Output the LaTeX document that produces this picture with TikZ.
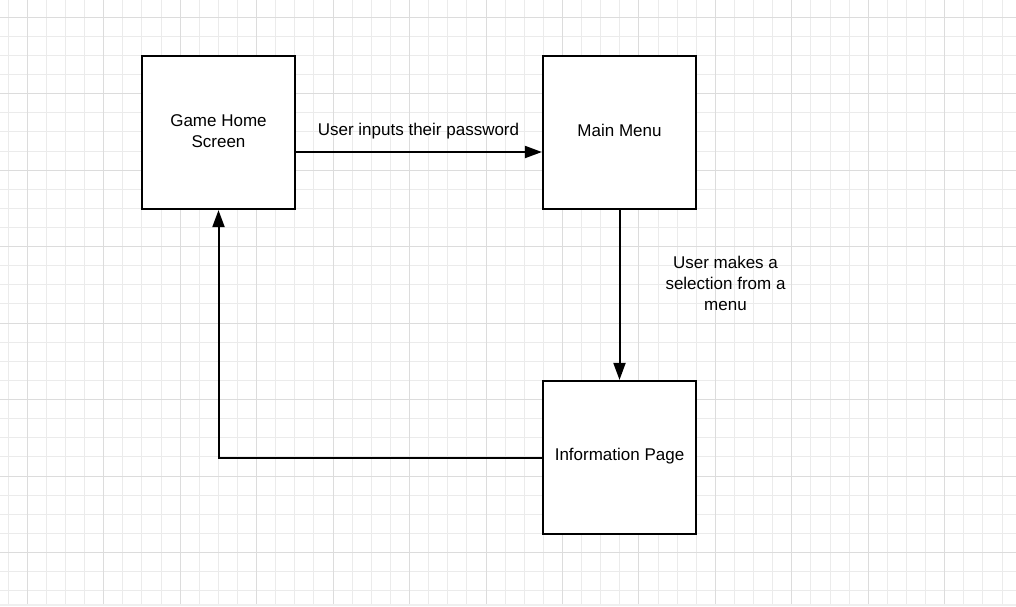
\documentclass[tikz,border=0pt]{standalone}
\usepackage{fontspec}
\setmainfont{Liberation Sans}
\usetikzlibrary{arrows.meta}
\definecolor{gridminor}{HTML}{EBEBEB}
\definecolor{gridmajor}{HTML}{DCDCDC}
\definecolor{stripgray}{HTML}{EFEFEF}
\tikzset{
  screen/.style={draw=black, line width=2.2pt, fill=white, minimum width=153pt, minimum height=153pt, inner sep=0pt},
  screentext/.style={align=center, inner sep=0pt, font=\fontsize{17pt}{21pt}\selectfont, yshift=1.8pt},
  flow/.style={draw=black, line width=2pt, -{Triangle[length=17pt,width=12pt]}},
  lbl/.style={align=center, font=\fontsize{17pt}{21pt}\selectfont, inner sep=0pt},
  minorline/.style={draw=gridminor, line width=1pt},
  majorline/.style={draw=gridmajor, line width=1pt}
}
\begin{document}
\begin{tikzpicture}[x=1pt,y=-1pt]
\useasboundingbox (0,0) rectangle (1016,606);
\fill[white] (0,0) rectangle (1016,606);
% minor grid (skipping major positions)
\draw[minorline] (8.2,0) -- (8.2,604);
\foreach \k in {0,...,12} {
  \foreach \j in {1,2,3} {
    \draw[minorline] ({27.3+76.45*\k+19.11*\j},0) -- ({27.3+76.45*\k+19.11*\j},604);
  }
}
\foreach \k in {0,...,7} {
  \foreach \j in {1,2,3} {
    \draw[minorline] (0,{17.3+76.45*\k+19.11*\j}) -- (1016,{17.3+76.45*\k+19.11*\j});
  }
}
% major grid
\foreach \k in {0,...,13} {
  \draw[majorline] ({27.3+76.45*\k},0) -- ({27.3+76.45*\k},604);
}
\foreach \k in {0,...,7} {
  \draw[majorline] (0,{17.3+76.45*\k}) -- (1016,{17.3+76.45*\k});
}
\fill[stripgray] (0,604) rectangle (1016,606);

\node[screen] (home) at (218.5,132.5) {};
\node[screen] (menu) at (619.5,132.5) {};
\node[screen] (info) at (619.5,457.5) {};
\node[screentext] (hometext) at (home.center) {Game Home\\Screen};
\node[screentext] (menutext) at (menu.center) {Main Menu};
\node[screentext] (infotext) at (info.center) {Information Page};

\coordinate (corner) at (218.5,457.5);

\draw[flow] (home.east |- 0,152) -- (menu.west |- 0,152);
\draw[flow] (menu.south) -- (info.north);
\draw[flow] (info.west) -- (corner) -- (home.south);

\node[lbl] (l1) at (418.5,131) {User inputs their password};
\node[lbl] (l2) at (725.5,283) {User makes a\\selection from a\\menu};
\end{tikzpicture}
\end{document}
